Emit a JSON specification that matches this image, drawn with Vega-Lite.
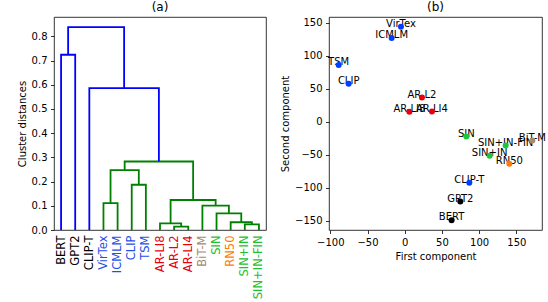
{
  "$schema": "https://vega.github.io/schema/vega-lite/v6.json",
  "padding": {"left": 16, "top": 0, "right": 0, "bottom": 0},
  "resolve": {"scale": {"color": "independent"}},
  "config": {
    "font": "DejaVu Sans",
    "view": {"stroke": "black", "strokeWidth": 0.8},
    "axis": {"grid": false, "domain": false, "tickColor": "black", "tickSize": 3.5, "tickWidth": 0.8, "labelColor": "black", "labelFontSize": 10, "labelFont": "DejaVu Sans", "titleFont": "DejaVu Sans", "titleFontSize": 10, "titleFontWeight": "normal", "titleColor": "black", "labelPadding": 3.5, "titlePadding": 4},
    "title": {"fontSize": 12, "fontWeight": "normal", "font": "DejaVu Sans", "color": "black", "offset": 3},
    "concat": {"spacing": 13}
  },
  "hconcat": [
    {
      "title": "(a)",
      "width": 212,
      "height": 213,
      "data": {"values": [
        {"link": 1, "i": 0, "x": 35, "y": 0, "c": "below"},
        {"link": 1, "i": 1, "x": 35, "y": 0.111, "c": "below"},
        {"link": 1, "i": 2, "x": 45, "y": 0.111, "c": "below"},
        {"link": 1, "i": 3, "x": 45, "y": 0, "c": "below"},
        {"link": 2, "i": 0, "x": 55, "y": 0, "c": "below"},
        {"link": 2, "i": 1, "x": 55, "y": 0.187, "c": "below"},
        {"link": 2, "i": 2, "x": 65, "y": 0.187, "c": "below"},
        {"link": 2, "i": 3, "x": 65, "y": 0, "c": "below"},
        {"link": 3, "i": 0, "x": 40, "y": 0.111, "c": "below"},
        {"link": 3, "i": 1, "x": 40, "y": 0.247, "c": "below"},
        {"link": 3, "i": 2, "x": 60, "y": 0.247, "c": "below"},
        {"link": 3, "i": 3, "x": 60, "y": 0.187, "c": "below"},
        {"link": 4, "i": 0, "x": 85, "y": 0, "c": "below"},
        {"link": 4, "i": 1, "x": 85, "y": 0.014, "c": "below"},
        {"link": 4, "i": 2, "x": 95, "y": 0.014, "c": "below"},
        {"link": 4, "i": 3, "x": 95, "y": 0, "c": "below"},
        {"link": 5, "i": 0, "x": 75, "y": 0, "c": "below"},
        {"link": 5, "i": 1, "x": 75, "y": 0.027, "c": "below"},
        {"link": 5, "i": 2, "x": 90, "y": 0.027, "c": "below"},
        {"link": 5, "i": 3, "x": 90, "y": 0.014, "c": "below"},
        {"link": 6, "i": 0, "x": 135, "y": 0, "c": "below"},
        {"link": 6, "i": 1, "x": 135, "y": 0.023, "c": "below"},
        {"link": 6, "i": 2, "x": 145, "y": 0.023, "c": "below"},
        {"link": 6, "i": 3, "x": 145, "y": 0, "c": "below"},
        {"link": 7, "i": 0, "x": 125, "y": 0, "c": "below"},
        {"link": 7, "i": 1, "x": 125, "y": 0.032, "c": "below"},
        {"link": 7, "i": 2, "x": 140, "y": 0.032, "c": "below"},
        {"link": 7, "i": 3, "x": 140, "y": 0.023, "c": "below"},
        {"link": 8, "i": 0, "x": 115, "y": 0, "c": "below"},
        {"link": 8, "i": 1, "x": 115, "y": 0.069, "c": "below"},
        {"link": 8, "i": 2, "x": 132.5, "y": 0.069, "c": "below"},
        {"link": 8, "i": 3, "x": 132.5, "y": 0.032, "c": "below"},
        {"link": 9, "i": 0, "x": 105, "y": 0, "c": "below"},
        {"link": 9, "i": 1, "x": 105, "y": 0.101, "c": "below"},
        {"link": 9, "i": 2, "x": 123.75, "y": 0.101, "c": "below"},
        {"link": 9, "i": 3, "x": 123.75, "y": 0.069, "c": "below"},
        {"link": 10, "i": 0, "x": 82.5, "y": 0.027, "c": "below"},
        {"link": 10, "i": 1, "x": 82.5, "y": 0.124, "c": "below"},
        {"link": 10, "i": 2, "x": 114.375, "y": 0.124, "c": "below"},
        {"link": 10, "i": 3, "x": 114.375, "y": 0.101, "c": "below"},
        {"link": 11, "i": 0, "x": 50, "y": 0.247, "c": "below"},
        {"link": 11, "i": 1, "x": 50, "y": 0.283, "c": "below"},
        {"link": 11, "i": 2, "x": 98.4375, "y": 0.283, "c": "below"},
        {"link": 11, "i": 3, "x": 98.4375, "y": 0.124, "c": "below"},
        {"link": 12, "i": 0, "x": 5, "y": 0, "c": "above"},
        {"link": 12, "i": 1, "x": 5, "y": 0.724, "c": "above"},
        {"link": 12, "i": 2, "x": 15, "y": 0.724, "c": "above"},
        {"link": 12, "i": 3, "x": 15, "y": 0, "c": "above"},
        {"link": 13, "i": 0, "x": 25, "y": 0, "c": "above"},
        {"link": 13, "i": 1, "x": 25, "y": 0.586, "c": "above"},
        {"link": 13, "i": 2, "x": 74.21875, "y": 0.586, "c": "above"},
        {"link": 13, "i": 3, "x": 74.21875, "y": 0.283, "c": "above"},
        {"link": 14, "i": 0, "x": 10, "y": 0.724, "c": "above"},
        {"link": 14, "i": 1, "x": 10, "y": 0.838, "c": "above"},
        {"link": 14, "i": 2, "x": 49.609375, "y": 0.838, "c": "above"},
        {"link": 14, "i": 3, "x": 49.609375, "y": 0.586, "c": "above"}
      ]},
      "mark": {"type": "line", "strokeWidth": 1.8},
      "encoding": {
        "x": {"field": "x", "type": "quantitative", "scale": {"domain": [0, 150], "nice": false, "zero": false},
          "axis": {"values": [5, 15, 25, 35, 45, 55, 65, 75, 85, 95, 105, 115, 125, 135, 145],
            "labelExpr": "['BERT','GPT2','CLIP-T','VirTex','ICMLM','CLIP','TSM','AR-LI8','AR-L2','AR-LI4','BiT-M','SIN','RN50','SIN+IN','SIN+IN-FIN'][round((datum.value-5)/10)]",
            "labelAngle": -90, "tickSize": 0, "labelPadding": 5, "title": null, "labelFontSize": 11.5,
            "labelColor": {"condition": [
              {"test": "datum.value < 30", "value": "black"},
              {"test": "datum.value < 70", "value": "#1f4fe8"},
              {"test": "datum.value < 100", "value": "#e8000b"},
              {"test": "datum.value < 110", "value": "#a58a6e"},
              {"test": "datum.value == 125", "value": "#ff7c00"}
            ], "value": "#1fbf2f"}}},
        "y": {"field": "y", "type": "quantitative", "scale": {"domain": [0, 0.88], "nice": false},
          "axis": {"values": [0, 0.1, 0.2, 0.3, 0.4, 0.5, 0.6, 0.7, 0.8], "format": ".1f", "title": "Cluster distances"}},
        "color": {"field": "c", "type": "nominal", "scale": {"domain": ["above", "below"], "range": ["#0000ff", "#008000"]}, "legend": null},
        "detail": {"field": "link"},
        "order": {"field": "i"}
      }
    },
    {
      "title": "(b)",
      "width": 213,
      "height": 213,
      "data": {"values": [
        {"name": "VirTex", "pc1": -5.1, "pc2": 144, "family": "vl"},
        {"name": "ICMLM", "pc1": -17.6, "pc2": 127, "family": "vl"},
        {"name": "TSM", "pc1": -88.8, "pc2": 86, "family": "vl"},
        {"name": "CLIP", "pc1": -75.4, "pc2": 57.6, "family": "vl"},
        {"name": "AR-L2", "pc1": 23.1, "pc2": 36.8, "family": "ar"},
        {"name": "AR-LI8", "pc1": 6.2, "pc2": 15.2, "family": "ar"},
        {"name": "AR-LI4", "pc1": 36.6, "pc2": 15.6, "family": "ar"},
        {"name": "SIN", "pc1": 82.8, "pc2": -22.2, "family": "sin"},
        {"name": "BiT-M", "pc1": 171.5, "pc2": -28.3, "family": "bit"},
        {"name": "SIN+IN-FIN", "pc1": 135.6, "pc2": -35.9, "family": "sin"},
        {"name": "SIN+IN", "pc1": 114.1, "pc2": -51.5, "family": "sin"},
        {"name": "RN50", "pc1": 140.6, "pc2": -63.6, "family": "rn"},
        {"name": "CLIP-T", "pc1": 86.8, "pc2": -92, "family": "vl"},
        {"name": "GPT2", "pc1": 74.7, "pc2": -120.7, "family": "lang"},
        {"name": "BERT", "pc1": 63, "pc2": -149, "family": "lang"}
      ]},
      "encoding": {
        "x": {"field": "pc1", "type": "quantitative", "scale": {"domain": [-101.8, 184.5], "nice": false, "zero": false},
          "axis": {"values": [-100, -50, 0, 50, 100, 150], "title": "First component"}},
        "y": {"field": "pc2", "type": "quantitative", "scale": {"domain": [-163.7, 158.7], "nice": false, "zero": false},
          "axis": {"values": [-150, -100, -50, 0, 50, 100, 150], "title": "Second component"}}
      },
      "layer": [
        {"mark": {"type": "text", "fontSize": 10, "baseline": "alphabetic", "align": "center", "color": "black", "font": "DejaVu Sans"},
         "encoding": {"text": {"field": "name"}}},
        {"mark": {"type": "circle", "size": 36, "opacity": 1},
         "encoding": {"color": {"field": "family", "type": "nominal", "scale": {"domain": ["vl", "ar", "sin", "rn", "bit", "lang"], "range": ["#023eff", "#e8000b", "#1ac938", "#ff7c00", "#a58a6e", "#000000"]}, "legend": null}}}
      ]
    }
  ]
}
